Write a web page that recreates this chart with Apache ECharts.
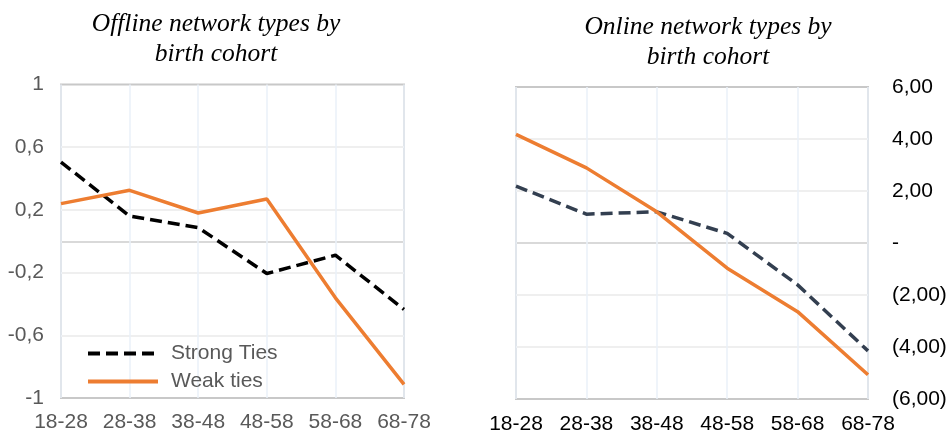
<!DOCTYPE html>
<html>
<head>
<meta charset="utf-8">
<script src="https://cdn.jsdelivr.net/npm/echarts@6/dist/echarts.min.js"></script>
<style>html,body{margin:0;padding:0;background:#fff}#c{width:951px;height:436px}</style>
</head>
<body>
<div id="c"></div>
<script>
const categories = ['18-28','28-38','38-48','48-58','58-68','68-78'];
const offlineStrong = [0.505, 0.161, 0.087, -0.206, -0.089, -0.435];
const offlineWeak = [0.24, 0.325, 0.18, 0.27, -0.361, -0.913];
const onlineStrong = [2.19, 1.11, 1.2, 0.37, -1.61, -4.15];
const onlineWeak = [4.18, 2.89, 1.2, -0.97, -2.64, -5.07];
const leftTickLabels = [-1, -0.6, -0.2, 0.2, 0.6, 1];

const T = 'rgba(0,0,0,0)', L = '#efefef', Z = '#d9d9d9';
const orange = '#ED7D31';

function fmtLeft(v) {
  const r = Math.round(v * 10) / 10;
  if (!leftTickLabels.some(t => Math.abs(t - r) < 1e-6)) return '';
  return String(r).replace('.', ',');
}
function fmtRight(v) {
  if (Math.abs(v) < 1e-9) return '-';
  const s = Math.abs(v).toFixed(2).replace('.', ',');
  return v < 0 ? '(' + s + ')' : s;
}

const chart = echarts.init(document.getElementById('c'), null, {renderer: 'canvas'});
const titleStyle = {fontFamily: 'Liberation Serif', fontStyle: 'italic', fontWeight: 'normal', fontSize: 25.5, lineHeight: 30, color: '#000'};
chart.setOption({
  animation: false,
  title: [
    {text: 'Offline network types by\nbirth cohort', left: 211, top: 4, textAlign: 'center', textStyle: Object.assign({align: 'center'}, titleStyle)},
    {text: 'Online network types by\nbirth cohort', left: 703, top: 7, textAlign: 'center', textStyle: Object.assign({align: 'center'}, titleStyle)}
  ],
  legend: {
    data: ['Strong Ties', 'Weak ties'],
    orient: 'vertical',
    left: 81, top: 338,
    itemWidth: 70, itemHeight: 20, itemGap: 7,
    itemStyle: {opacity: 0, color: 'rgba(0,0,0,0)', borderWidth: 0},
    lineStyle: {width: 4},
    textStyle: {fontFamily: 'Liberation Sans', fontSize: 21, color: '#595959', padding: [0, 0, 0, 8]},
    selectedMode: false
  },
  grid: [
    {left: 61, right: 547, top: 84.5, bottom: 38, show: true, borderColor: '#c8c8c8', borderWidth: 2, containLabel: false},
    {left: 516, right: 83, top: 87, bottom: 37, show: true, borderColor: '#c8c8c8', borderWidth: 2, containLabel: false}
  ],
  xAxis: [
    {type: 'category', gridIndex: 0, data: categories, boundaryGap: false,
     axisLine: {show: false}, axisTick: {show: false},
     axisLabel: {fontFamily: 'Liberation Sans', fontSize: 21, color: '#595959', margin: 14, interval: 0},
     splitLine: {show: true, lineStyle: {color: '#eaf0f8', width: 1.5}}},
    {type: 'category', gridIndex: 1, data: categories, boundaryGap: false,
     axisLine: {show: false}, axisTick: {show: false},
     axisLabel: {fontFamily: 'Liberation Sans', fontSize: 21, color: '#000', margin: 15, interval: 0},
     splitLine: {show: true, lineStyle: {color: '#eaf0f8', width: 1.5}}}
  ],
  yAxis: [
    {type: 'value', gridIndex: 0, min: -1, max: 1, interval: 0.2, position: 'left',
     axisLine: {show: false}, axisTick: {show: false},
     axisLabel: {fontFamily: 'Liberation Sans', fontSize: 21, color: '#595959', margin: 17, formatter: fmtLeft},
     splitLine: {show: true, lineStyle: {width: 2, color: [T, T, L, T, L, Z, L, T, L, T, T]}}},
    {type: 'value', gridIndex: 1, min: -6, max: 6, interval: 2, position: 'right',
     axisLine: {show: false}, axisTick: {show: false},
     axisLabel: {fontFamily: 'Liberation Sans', fontSize: 21, color: '#000', margin: 24, formatter: fmtRight},
     splitLine: {show: true, lineStyle: {width: 2, color: [T, L, L, Z, L, L, T]}}}
  ],
  series: [
    {name: 'Strong Ties', type: 'line', xAxisIndex: 0, yAxisIndex: 0, data: offlineStrong, symbol: 'none',
     lineStyle: {color: '#000', width: 3.5, type: [12, 6]}, itemStyle: {color: '#000'}},
    {name: 'Weak ties', type: 'line', xAxisIndex: 0, yAxisIndex: 0, data: offlineWeak, symbol: 'none',
     lineStyle: {color: orange, width: 3.5}, itemStyle: {color: orange}},
    {name: 'Strong Ties (online)', type: 'line', xAxisIndex: 1, yAxisIndex: 1, data: onlineStrong, symbol: 'none',
     lineStyle: {color: '#333F50', width: 3.5, type: [12, 6]}, itemStyle: {color: '#333F50'}},
    {name: 'Weak ties (online)', type: 'line', xAxisIndex: 1, yAxisIndex: 1, data: onlineWeak, symbol: 'none',
     lineStyle: {color: orange, width: 3.5}, itemStyle: {color: orange}}
  ]
});
</script>
</body>
</html>
